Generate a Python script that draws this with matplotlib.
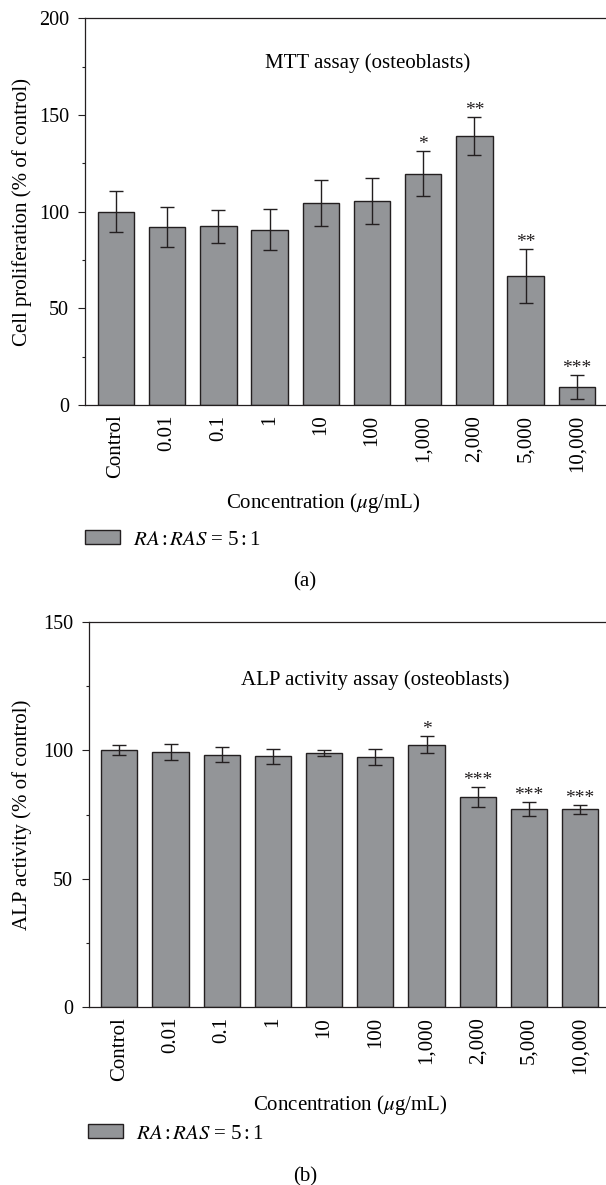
import matplotlib
matplotlib.use("Agg")
import matplotlib.pyplot as plt
from matplotlib.ticker import MultipleLocator

# ---- data ----
concentrations = ["Control", "0.01", "0.1", "1", "10", "100",
                  "1,000", "2,000", "5,000", "10,000"]

mtt_mean = [100.0, 92.0, 92.4, 90.6, 104.4, 105.4, 119.7, 139.2, 66.8, 9.3]
mtt_err = [10.5, 10.3, 8.5, 10.6, 11.8, 11.9, 11.8, 9.7, 13.8, 6.4]
mtt_stars = ["", "", "", "", "", "", "*", "**", "**", "***"]

alp_mean = [100.0, 99.3, 98.3, 97.6, 98.9, 97.4, 102.2, 81.8, 77.1, 77.0]
alp_err = [1.9, 3.0, 2.8, 3.0, 1.3, 3.2, 3.4, 3.9, 2.7, 1.7]
alp_stars = ["", "", "", "", "", "", "*", "***", "***", "***"]

legend_label = r"$RA\,$:$\,RAS$ = 5$\,$:$\,$1"

plt.rcParams["font.family"] = "serif"
plt.rcParams["font.serif"] = ["Liberation Serif", "DejaVu Serif"]
plt.rcParams["mathtext.fontset"] = "stix"

W, H = 606, 1185
fig = plt.figure(figsize=(W / 100, H / 100), dpi=100)


def px(x):
    return x / W


def py(y):
    return 1 - y / H


BAR_COLOR = "#939598"
EDGE = "#231f20"


def draw_panel(ax, means, errs, stars, ymax, title, title_xy, ylabel,
               ylabel_px, xlabel_px, legend_px, tag_px, tag):
    x = list(range(len(means)))
    bars = ax.bar(x, means, width=0.71, color=BAR_COLOR, edgecolor=EDGE,
                  linewidth=1.0, zorder=2)
    ax.errorbar(x, means, yerr=errs, fmt="none", ecolor=EDGE,
                elinewidth=1.0, capsize=5, capthick=1.0, zorder=3)
    for xi, m, e, s in zip(x, means, errs, stars):
        if s:
            ax.annotate(s, (xi, m + e), xytext=(0, 1.5),
                        textcoords="offset points", ha="center",
                        va="baseline", fontsize=14, color=EDGE)

    ax.set_ylim(0, ymax)
    ax.yaxis.set_major_locator(MultipleLocator(50))
    ax.yaxis.set_minor_locator(MultipleLocator(25))
    ax.set_xticks(x)
    ax.set_xticklabels(concentrations, rotation=90)
    ax.tick_params(axis="x", length=0, pad=7, labelsize=15)
    ax.tick_params(axis="y", which="major", length=5, width=0.8,
                   pad=6.5, labelsize=14.5, color=EDGE)
    ax.tick_params(axis="y", which="minor", length=2.5, width=0.8,
                   color=EDGE)
    for sp in ax.spines.values():
        sp.set_linewidth(0.9)
        sp.set_color(EDGE)
    ax.spines["right"].set_visible(False)

    ax.text(title_xy[0], title_xy[1], title, ha="center", va="center",
            fontsize=15)

    fig.text(px(ylabel_px[0]), py(ylabel_px[1]), ylabel, rotation=90,
             ha="center", va="center", fontsize=15)
    fig.text(px(xlabel_px[0]), py(xlabel_px[1]),
             r"Concentration ($\mu$g/mL)", ha="center", va="center",
             fontsize=15)
    fig.text(px(tag_px[0]), py(tag_px[1]), tag, ha="center", va="center",
             fontsize=15)

    ax.legend([bars], [legend_label], loc="center left",
              bbox_to_anchor=(px(legend_px[0]), py(legend_px[1])),
              bbox_transform=fig.transFigure, frameon=False, fontsize=15,
              borderpad=0, borderaxespad=0, handlelength=1.67,
              handleheight=0.61, handletextpad=0.65)


# panel (a)
ax1 = fig.add_axes([px(85), py(405), px(620) - px(85), (405 - 18.3) / H])
ax1.set_xlim((85 - 116) / 51.2, (620 - 116) / 51.2)
draw_panel(ax1, mtt_mean, mtt_err, mtt_stars, 200,
           "MTT assay (osteoblasts)", (4.92, 177),
           "Cell proliferation (% of control)", (22, 211.7),
           (323.5, 503), (85, 540), (305, 582), "(a)")

# panel (b)
ax2 = fig.add_axes([px(88.9), py(1007.3), px(620) - px(88.9),
                    (1007.3 - 621.7) / H])
ax2.set_xlim((88.9 - 119.3) / 51.2, (620 - 119.3) / 51.2)
draw_panel(ax2, alp_mean, alp_err, alp_stars, 150,
           "ALP activity assay (osteoblasts)", (4.99, 127.3),
           "ALP activity (% of control)", (22, 814.5),
           (350, 1105), (88, 1134), (305, 1177), "(b)")

fig.savefig("out.png", dpi=100, facecolor="white")
